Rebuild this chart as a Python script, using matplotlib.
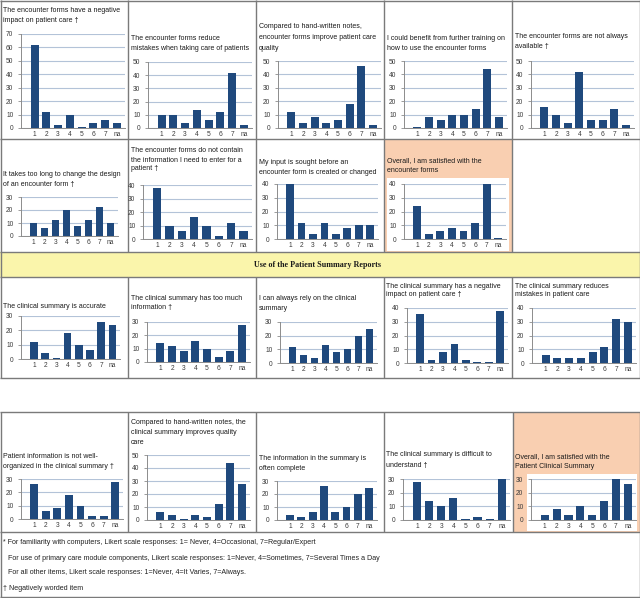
import matplotlib
matplotlib.use('Agg')
import matplotlib.pyplot as plt
from matplotlib.patches import Rectangle

plt.rcParams['font.family'] = ['Liberation Sans', 'DejaVu Sans']

# ---------------- data ----------------
categories = ['1', '2', '3', '4', '5', '6', '7', 'na']

forms_negative_impact = [62, 12, 2, 10, 0.5, 4, 6, 4]
forms_reduce_mistakes = [10, 10, 4, 14, 6, 12, 42, 2]
forms_improve_quality = [12, 4, 8, 4, 6, 18, 46, 2]
forms_training = [0.5, 8, 6, 10, 10, 14, 44, 8]
forms_not_available = [16, 10, 4, 42, 6, 6, 14, 2]
forms_too_long_change = [10, 6, 12, 20, 8, 12, 22, 10]
forms_missing_info = [38, 10, 6, 16, 10, 2, 12, 6]
forms_input_sought = [40, 12, 4, 12, 4, 8, 10, 10]
forms_satisfied = [24, 4, 6, 8, 6, 12, 40, 0.5]

summary_accurate = [12, 4, 0.5, 18, 10, 6, 26, 24]
summary_too_much = [14, 12, 8, 16, 10, 4, 8, 28]
summary_rely = [12, 6, 4, 13, 8, 10, 20, 25]
summary_negative_impact = [36, 2, 8, 14, 2, 0.5, 0.5, 38]
summary_reduce_mistakes = [6, 4, 4, 4, 8, 12, 32, 30]
summary_not_organized = [26, 6, 8, 18, 10, 2, 2, 28]
summary_improve_quality = [6, 4, 0.5, 4, 2, 12, 44, 28]
summary_complete = [4, 2, 6, 26, 6, 10, 20, 25]
summary_difficult = [28, 14, 10, 16, 0.5, 2, 0.5, 30]
summary_satisfied = [4, 8, 4, 10, 4, 14, 30, 26]

titles = {
    'fni': "The encounter forms have a negative\nimpact on patient care \u2020",
    'frm': "The encounter forms reduce\nmistakes when taking care of patients",
    'fiq': "Compared to hand-written notes,\nencounter forms improve patient care\nquality",
    'ftr': "I could benefit from further training on\nhow to use the encounter forms",
    'fna': "The encounter forms are not always\navailable \u2020",
    'ftl': "It takes too long to change the design\nof an encounter form \u2020",
    'fmi': "The encounter forms do not contain\nthe information I need to enter for a\npatient \u2020",
    'fis': "My input is sought before an\nencounter form is created or changed",
    'fsa': "Overall, I am satisfied with the\nencounter forms",
    'sac': "The clinical summary is accurate",
    'stm': "The clinical summary has too much\ninformation \u2020",
    'sre': "I can always rely on the clinical\nsummary",
    'sni': "The clinical summary has a negative\nimpact on patient care \u2020",
    'srm': "The clinical summary reduces\nmistakes in patient care",
    'sno': "Patient information is not well-\norganized in the clinical summary \u2020",
    'siq': "Compared to hand-written notes, the\nclinical summary improves quality\ncare",
    'sco': "The information in the summary is\noften complete",
    'sdi': "The clinical summary is difficult to\nunderstand \u2020",
    'ssa': "Overall, I am satisfied with the\nPatient Clinical Summary",
}
banner_text = "Use of the Patient Summary Reports"
footer_lines = [
    "* For familiarity with computers, Likert scale responses: 1= Never, 4=Occasional, 7=Regular/Expert",
    "For use of primary care module components, Likert scale responses: 1=Never, 4=Sometimes, 7=Several Times a Day",
    "For all other items, Likert scale responses: 1=Never, 4=It Varies, 7=Always.",
    "\u2020 Negatively worded item",
]

# ---------------- layout / style ----------------
W, H = 640, 598
BAR = '#1f497d'
GRID = '#b3c3d8'
AX = '#8c8c8c'
TXT = '#3a3a3a'
BORDER = '#7a7a7a'
ORANGE = '#f9cfb1'
YELLOW = '#faf5ab'

fig = plt.figure(figsize=(W / 100, H / 100), dpi=100)
bg = fig.add_axes([0, 0, 1, 1])
bg.set_xlim(0, W)
bg.set_ylim(H, 0)
bg.axis('off')

# backgrounds
bg.add_patch(Rectangle((384, 139), 128, 113, facecolor=ORANGE, edgecolor='none'))
bg.add_patch(Rectangle((387, 178), 122, 73, facecolor='white', edgecolor='none'))
bg.add_patch(Rectangle((513, 412), 127, 120, facecolor=ORANGE, edgecolor='none'))
bg.add_patch(Rectangle((527, 474), 110, 57, facecolor='white', edgecolor='none'))
bg.add_patch(Rectangle((0, 252), 640, 25, facecolor=YELLOW, edgecolor='none'))

def hline(y, x0, x1):
    bg.plot([x0, x1], [y, y], color=BORDER, lw=1.0, solid_capstyle='butt')

def vline(x, y0, y1):
    bg.plot([x, x], [y0, y1], color=BORDER, lw=1.0, solid_capstyle='butt')

# top block borders
hline(0.5, 0, 640); hline(139, 0, 640); hline(252, 0, 640); hline(277, 0, 640); hline(378, 0, 640)
vline(0.5, 0, 378); vline(639.5, 0, 378)
for x in (128, 256, 384, 512):
    vline(x, 0, 252)
    vline(x, 277, 378)
# bottom block borders
hline(412, 0, 640); hline(532, 0, 640); hline(597, 0, 640)
vline(0.5, 412, 597); vline(639.5, 412, 597)
for x in (128, 256, 384, 513):
    vline(x, 412, 532)

bg.text(318, 265, banner_text, family=['Liberation Serif', 'DejaVu Serif'],
        fontweight='bold', fontsize=5.9, ha='center', va='center', color='#1a1a1a')

footer_pos = [(3, 541), (8, 557), (8, 572), (3, 588)]
for (x, y), s in zip(footer_pos, footer_lines):
    bg.text(x, y, s, fontsize=5.15, ha='left', va='center_baseline', color='#222222')

panels = [
    # key, values, ymax, plot box (l, t, r, b), title (x, first-line y, line pitch)
    ('fni', forms_negative_impact, 70, (21, 34, 125, 128), (3, 9, 10)),
    ('frm', forms_reduce_mistakes, 50, (148, 62, 252, 128), (131, 38, 10)),
    ('fiq', forms_improve_quality, 50, (278, 61, 381, 128), (259, 26, 10.5)),
    ('ftr', forms_training, 50, (404, 61, 507, 128), (387, 37, 10)),
    ('fna', forms_not_available, 50, (531, 61, 634, 128), (515, 36, 9.5)),
    ('ftl', forms_too_long_change, 30, (21, 197, 118, 236), (3, 174, 9.5)),
    ('fmi', forms_missing_info, 40, (143, 185, 252, 239), (131, 150, 9)),
    ('fis', forms_input_sought, 40, (277, 184, 378, 239), (259, 161, 10)),
    ('fsa', forms_satisfied, 40, (404, 184, 506, 239), (387, 160, 10)),
    ('sac', summary_accurate, 30, (21, 316, 120, 359), (3, 306, 9)),
    ('stm', summary_too_much, 30, (147, 322, 250, 362), (131, 298, 9)),
    ('sre', summary_rely, 30, (280, 322, 377, 363), (259, 298, 9)),
    ('sni', summary_negative_impact, 40, (407, 308, 508, 363), (386, 285, 8.5)),
    ('srm', summary_reduce_mistakes, 40, (532, 308, 636, 363), (515, 285, 8.5)),
    ('sno', summary_not_organized, 30, (21, 479, 123, 519), (3, 455, 11)),
    ('siq', summary_improve_quality, 50, (147, 455, 250, 520), (131, 421, 10)),
    ('sco', summary_complete, 30, (277, 481, 377, 520), (259, 457, 10)),
    ('sdi', summary_difficult, 30, (403, 479, 510, 520), (386, 454, 10)),
    ('ssa', summary_satisfied, 30, (531, 479, 636, 520), (515, 456, 10)),
]

for key, vals, ymax, (l, t, r, b), (tx, ty, pitch) in panels:
    for i, line in enumerate(titles[key].split('\n')):
        bg.text(tx, ty + i * pitch + 2.5, line, fontsize=5.0, ha='left',
                va='baseline', color='#1a1a1a')
    ax = fig.add_axes([l / W, 1 - b / H, (r - l) / W, (b - t) / H])
    ax.set_facecolor('none')
    ax.bar(range(len(categories)), vals, width=0.68, color=BAR, zorder=3)
    ax.set_xlim(-1.15, 7.68)
    ax.set_ylim(0, ymax)
    ax.set_yticks(list(range(0, ymax + 1, 10)))
    ax.set_xticks(range(len(categories)))
    ax.set_xticklabels(categories)
    ax.yaxis.grid(True, color=GRID, lw=0.8)
    ax.set_axisbelow(True)
    ax.tick_params(axis='x', length=0, pad=2.0, labelsize=4.8, labelcolor=TXT)
    ax.tick_params(axis='y', length=2, width=0.6, color=AX, pad=3.5,
                   labelsize=4.8, labelcolor=TXT)
    for s in ('top', 'right'):
        ax.spines[s].set_visible(False)
    for s in ('left', 'bottom'):
        ax.spines[s].set_color(AX)
        ax.spines[s].set_linewidth(0.7)

fig.savefig('out.png', dpi=100)
